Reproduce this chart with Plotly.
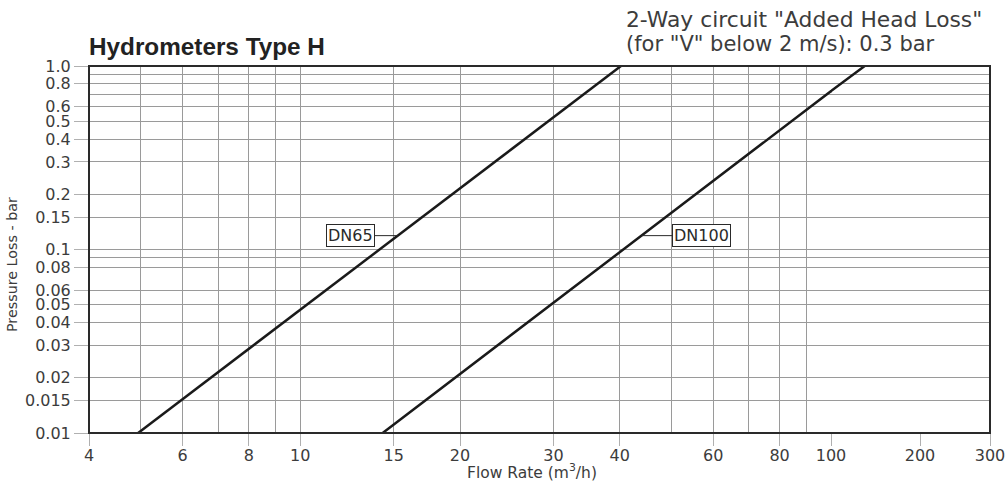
import numpy as np
import plotly.graph_objects as go

# ---- data ----
dn65_flow = [4.95, 40.2]          # m3/h
dn65_loss = [0.01, 1.0]           # bar
dn100_flow = [14.3, 100.0, 130.0]
dn100_loss = [0.01, 0.73, 1.0]

x_tick_vals_1 = [4, 6, 8, 10, 15, 20, 30, 40, 60, 80, 100]
x_tick_text_1 = ["4", "6", "8", "10", "15", "20", "30", "40", "60", "80", "100"]
x_minor_vals_1 = [5, 7, 9, 50, 70, 90]
x_tick_vals_2 = [200]
x_tick_text_2 = ["200"]
x_tick_vals_3 = [300]
x_tick_text_3 = ["300"]

y_tick_vals = [1.0, 0.8, 0.6, 0.5, 0.4, 0.3, 0.2, 0.15, 0.1, 0.08, 0.06, 0.05,
               0.04, 0.03, 0.02, 0.015, 0.01]
y_tick_text = ["1.0", "0.8", "0.6", "0.5", "0.4", "0.3", "0.2", "0.15", "0.1",
               "0.08", "0.06", "0.05", "0.04", "0.03", "0.02", "0.015", "0.01"]
y_minor_vals = [0.9, 0.7, 0.09]

label_loss = 0.119   # pressure level where the DN labels attach

# ---- layout geometry ----
W, H = 1007, 482
ML, MR, MT, MB = 89, 17, 66, 49
PW = W - ML - MR
PH = H - MT - MB
def px_x(p):
    return (p - ML) / PW
def px_y(p):
    return (H - MB - p) / PH

d1 = px_x(831)
d2 = px_x(920)

TXT = "#3c3c3c"
GRID = "#9a9a9a"
TICK = "#b0b0b0"
FONT = "DejaVu Sans"
tickfont = dict(family=FONT, size=16, color=TXT)

fig = go.Figure()
line_style = dict(color="#1a1a1a", width=2.5)
fig.add_trace(go.Scatter(x=dn65_flow, y=dn65_loss, mode="lines", line=line_style,
                         xaxis="x", yaxis="y", showlegend=False, hoverinfo="skip"))
fig.add_trace(go.Scatter(x=dn100_flow, y=dn100_loss, mode="lines", line=line_style,
                         xaxis="x", yaxis="y", showlegend=False, hoverinfo="skip"))
fig.add_trace(go.Scatter(x=dn100_flow, y=dn100_loss, mode="lines", line=line_style,
                         xaxis="x2", yaxis="y", showlegend=False, hoverinfo="skip"))
fig.add_trace(go.Scatter(x=[], y=[], mode="lines",
                         xaxis="x3", yaxis="y", showlegend=False, hoverinfo="skip"))

common_x = dict(type="log", ticks="outside", ticklen=12, tickcolor=TICK, tickwidth=1,
                showgrid=True, gridcolor=GRID, gridwidth=1, zeroline=False,
                showline=False, tickfont=tickfont, anchor="y", fixedrange=True,
                ticklabelstandoff=-4, automargin=False)

fig.update_layout(
    width=W, height=H, autosize=False, showlegend=False,
    margin=dict(l=ML, r=MR, t=MT, b=MB, pad=0, autoexpand=False),
    paper_bgcolor="white", plot_bgcolor="white",
    xaxis=dict(common_x, domain=[0, d1], range=[np.log10(4), 2],
               tickmode="array", tickvals=x_tick_vals_1, ticktext=x_tick_text_1,
               minor=dict(tickvals=x_minor_vals_1, showgrid=True, gridcolor=GRID,
                          gridwidth=1, ticks="")),
    xaxis2=dict(common_x, domain=[d1, d2], range=[2, np.log10(200)],
                tickmode="array", tickvals=x_tick_vals_2, ticktext=x_tick_text_2),
    xaxis3=dict(common_x, domain=[d2, 1], range=[np.log10(200), np.log10(300)],
                tickmode="array", tickvals=x_tick_vals_3, ticktext=x_tick_text_3),
    yaxis=dict(type="log", range=[-2, 0], domain=[0, 1], anchor="x",
               tickmode="array", tickvals=y_tick_vals, ticktext=y_tick_text,
               ticks="outside", ticklen=14, tickcolor=TICK, tickwidth=1,
               showgrid=True, gridcolor=GRID, gridwidth=1, zeroline=False,
               showline=False, tickfont=tickfont, fixedrange=True, automargin=False,
               minor=dict(tickvals=y_minor_vals, showgrid=True, gridcolor=GRID,
                          gridwidth=1, ticks="")),
)

# frame
fig.add_shape(type="rect", xref="paper", yref="paper", x0=0, x1=1, y0=0, y1=1,
              line=dict(color="#2a2a2a", width=2), layer="above")

# DN labels attached to the curves
def touch_x(flow, loss, lvl):
    return float(np.interp(np.log10(lvl), np.log10(loss), np.log10(flow)))

label_font = dict(family=FONT, size=16, color="#2a2a2a")
fig.add_annotation(x=touch_x(dn65_flow, dn65_loss, label_loss), y=np.log10(label_loss),
                   xref="x", yref="y", text="DN65", showarrow=True, arrowhead=0,
                   arrowwidth=1, arrowcolor="#2a2a2a", ax=-47, ay=0, standoff=0,
                   font=label_font, bgcolor="white", bordercolor="#2a2a2a",
                   borderwidth=1, borderpad=1)
fig.add_annotation(x=touch_x(dn100_flow, dn100_loss, label_loss), y=np.log10(label_loss),
                   xref="x", yref="y", text="DN100", showarrow=True, arrowhead=0,
                   arrowwidth=1, arrowcolor="#2a2a2a", ax=60, ay=0, standoff=0,
                   font=label_font, bgcolor="white", bordercolor="#2a2a2a",
                   borderwidth=1, borderpad=1)

# titles
fig.add_annotation(x=px_x(87), y=px_y(46), xref="paper", yref="paper", xanchor="left",
                   yanchor="middle", showarrow=False, text="<b>Hydrometers Type H</b>",
                   font=dict(family="Liberation Sans", size=24.3, color="#222222"))
fig.add_annotation(x=px_x(625), y=px_y(19.5), xref="paper", yref="paper", xanchor="left",
                   yanchor="middle", showarrow=False, borderpad=0,
                   text='2-Way circuit "Added Head Loss"',
                   font=dict(family=FONT, size=21.8, color=TXT))
fig.add_annotation(x=px_x(625), y=px_y(44), xref="paper", yref="paper", xanchor="left",
                   yanchor="middle", showarrow=False, borderpad=0,
                   text='(for "V" below 2 m/s): 0.3 bar',
                   font=dict(family=FONT, size=21, color=TXT))

# axis titles
fig.add_annotation(x=px_x(532), y=px_y(472), xref="paper", yref="paper",
                   xanchor="center", yanchor="middle", showarrow=False,
                   text="Flow Rate (m<sup>3</sup>/h)",
                   font=dict(family=FONT, size=15.5, color=TXT))
fig.add_annotation(x=px_x(12), y=px_y(265), xref="paper", yref="paper",
                   xanchor="center", yanchor="middle", showarrow=False, textangle=-90,
                   text="Pressure Loss - bar",
                   font=dict(family=FONT, size=14.3, color=TXT))

fig.write_html("out.html", config=dict(displayModeBar=False, responsive=False),
               post_script=("document.documentElement.style.overflow='hidden';"
                            "document.body.style.margin='0';"
                            "document.body.style.overflow='hidden';"))
